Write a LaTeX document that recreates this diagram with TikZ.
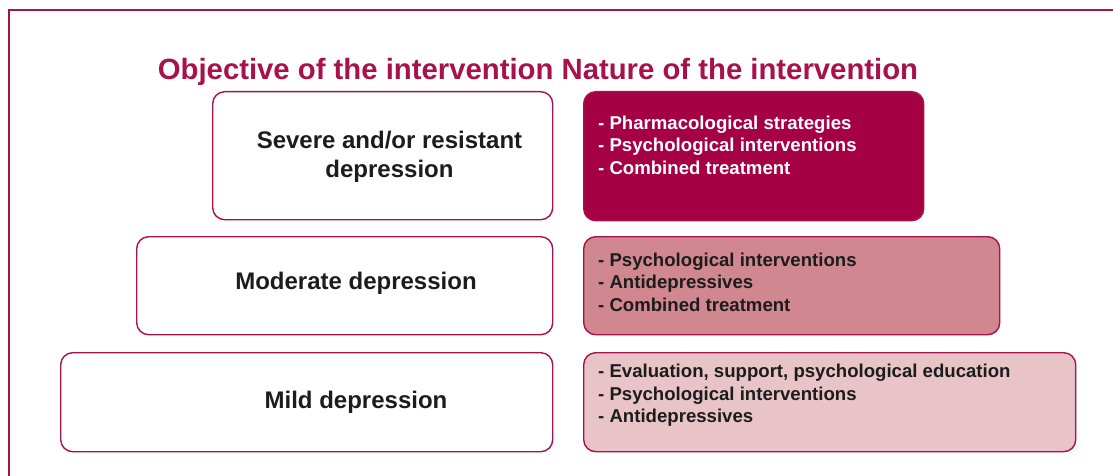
\documentclass[tikz,border=0pt]{standalone}
\usepackage{fontspec}
\setmainfont{Liberation Sans}
\usetikzlibrary{positioning}

\definecolor{wine}{HTML}{A8124A}
\definecolor{winedark}{HTML}{A50044}
\definecolor{winemid}{HTML}{D0878F}
\definecolor{winelight}{HTML}{E8C3C7}
\definecolor{inkgrey}{HTML}{1C1C1C}

\begin{document}
\begin{tikzpicture}[x=1pt, y=-1pt,
        box/.style={draw=wine, line width=1.4pt, rounded corners=12pt,
            inner sep=0pt, anchor=north west},
        level/.style={font=\bfseries\fontsize{24}{29}\selectfont,
            text=inkgrey, align=center, inner sep=0pt, anchor=base},
        care/.style={font=\bfseries\fontsize{18.6}{22.5}\selectfont,
            align=left, inner sep=0pt, anchor=base west}]
        \useasboundingbox (0,0) rectangle (1113,476);
        \draw[wine, line width=2.6pt] (1113,10) -- (8.8,10) -- (8.8,476);

        \node[font=\bfseries\fontsize{29.3}{34}\selectfont, text=wine,
            anchor=base, inner sep=0pt] (title) at (538,80)
            {Objective of the intervention Nature of the intervention};

        % objective boxes (left)
        \node[box, minimum width=340pt, minimum height=128pt] (severe) at (212,91) {};
        \node[box, minimum width=416pt, minimum height=98pt] (moderate) at (136,236) {};
        \node[box, minimum width=492pt, minimum height=99pt] (mild) at (60,352) {};

        % nature boxes (right)
        \node[box, fill=winedark, minimum width=340pt, minimum height=129pt] (severecare) at (583,91) {};
        \node[box, fill=winemid, minimum width=416pt, minimum height=98pt] (moderatecare) at (583,236) {};
        \node[box, fill=winelight, minimum width=492pt, minimum height=99pt] (mildcare) at (583,352) {};

        % base = baseline of the last line
        \node[level] (severetxt) at (389.5,177)
            {Severe and/or resistant\\depression};
        \node[level] (moderatetxt) at (356,289) {Moderate depression};
        \node[level] (mildtxt) at (356,408) {Mild depression};

        \node[care, text=white] (severelist) at (598,174.3)
            {- Pharmacological strategies\\- Psychological interventions\\- Combined treatment};
        \node[care, text=inkgrey] (moderatelist) at (598,311)
            {- Psychological interventions\\- Antidepressives\\- Combined treatment};
        \node[care, text=inkgrey] (mildlist) at (598,422.8)
            {- Evaluation, support, psychological education\\- Psychological interventions\\- Antidepressives};
    \end{tikzpicture}
\end{document}
